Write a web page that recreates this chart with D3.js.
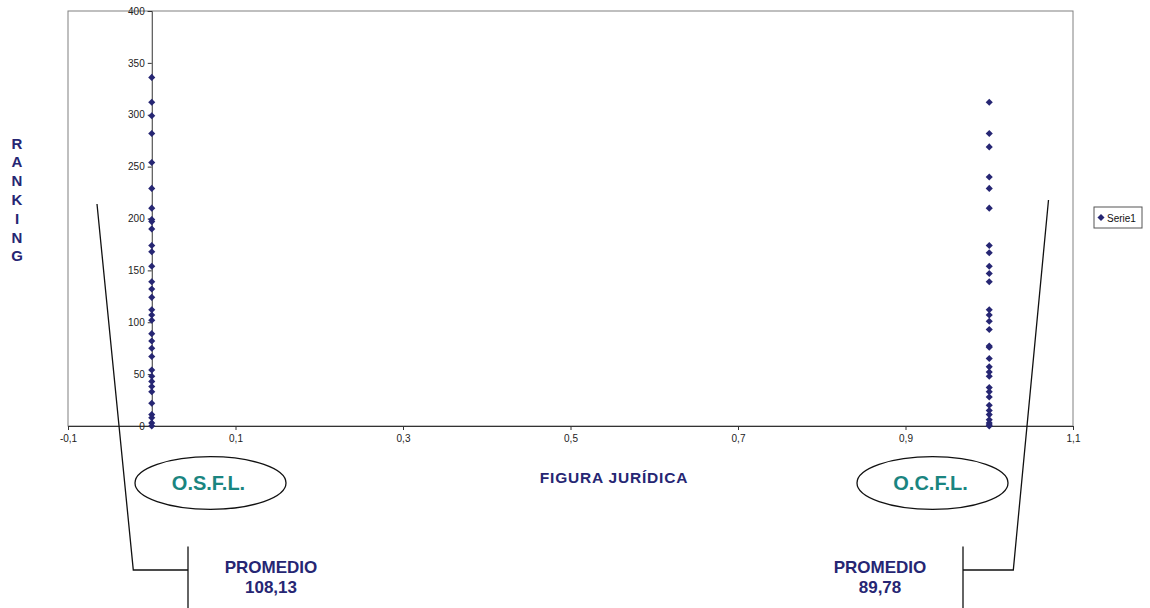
<!DOCTYPE html>
<html><head><meta charset="utf-8">
<script src="https://cdn.jsdelivr.net/npm/d3@7"></script>
<style>body{margin:0;background:#fff}svg{display:block;font-family:"Liberation Sans",Arial,sans-serif}</style>
</head><body><svg id="c" width="1150" height="608"></svg>
<script>
const seriesName = "Serie1";
const osflRanks = [336,312,299,282,254,229,210,199,197,190,174,168,154,139,132,124,112,107,102,89,82,75,67,54,48,43,38,33,22,11,8,3,0];
const ocflRanks = [312,282,269,240,229,210,174,167,154,147,139,112,107,101,93,77,76,65,57,52,48,37,33,28,20,15,11,6,3,1,0];
const xTicks = [-0.1,0.1,0.3,0.5,0.7,0.9,1.1];
const yTicks = [0,50,100,150,200,250,300,350,400];
const groupLabels = ["O.S.F.L.","O.C.F.L."];
const averages = ["108,13","89,78"];
const xTitle = "FIGURA JURÍDICA";
const yTitle = "RANKING";

const points = osflRanks.map(v=>({x:0,y:v})).concat(ocflRanks.map(v=>({x:1,y:v})));
const svg = d3.select("#c");
const L=68,R=1073,T=11,B=426;
const x = d3.scaleLinear().domain([-0.1,1.1]).range([L,R]);
const y = d3.scaleLinear().domain([0,400]).range([B,T]);
const navy="#262673", teal="#1a8580", axisC="#333";

svg.append("rect").attr("x",L).attr("y",T).attr("width",R-L).attr("height",B-T)
  .attr("fill","none").attr("stroke","#808080").attr("stroke-width",1);

const xa = svg.append("g").attr("transform",`translate(0,${B})`)
  .call(d3.axisBottom(x).tickValues(xTicks).tickSize(4).tickPadding(5).tickFormat(d=>d3.format(".1f")(d).replace(".",",").replace("−","-")));
xa.select(".domain").attr("stroke",axisC);
xa.selectAll(".tick line").attr("stroke",axisC);
xa.selectAll("text").attr("fill","#222").attr("font-size",10).attr("font-family","Liberation Sans, Arial");

const ya = svg.append("g").attr("transform",`translate(${x(0)},0)`)
  .call(d3.axisLeft(y).tickValues(yTicks).tickSize(4).tickPadding(3));
ya.select(".domain").attr("stroke",axisC);
ya.selectAll(".tick line").attr("stroke",axisC);
ya.selectAll("text").attr("fill","#222").attr("font-size",10).attr("font-family","Liberation Sans, Arial");

const sym = d3.symbol().type(d3.symbolDiamond2).size(32);
svg.append("g").selectAll("path").data(points).join("path")
  .attr("d",sym).attr("transform",d=>`translate(${x(d.x)},${y(d.y)})`).attr("fill",navy);

const lg = svg.append("g").attr("transform","translate(1094,207)");
lg.append("rect").attr("width",48).attr("height",21).attr("fill","#fff").attr("stroke","#555");
lg.append("path").attr("d",sym).attr("transform","translate(7,10.5)").attr("fill",navy);
lg.append("text").attr("x",13).attr("y",14.5).attr("font-size",10).attr("fill","#111").text(seriesName);

svg.append("g").selectAll("text").data(yTitle.split("")).join("text")
  .attr("x",17).attr("y",(d,i)=>148.5+i*18.8).attr("text-anchor","middle")
  .attr("font-size",15).attr("font-weight","bold").attr("fill",navy).text(d=>d);

svg.append("text").attr("x",614).attr("y",482.5).attr("text-anchor","middle")
  .attr("font-size",15.5).attr("letter-spacing",0.8).attr("font-weight","bold").attr("fill",navy).text(xTitle);

const ell=[{cx:210.5,cy:483},{cx:932.5,cy:483}];
ell.forEach((e,i)=>{
  svg.append("ellipse").attr("cx",e.cx).attr("cy",e.cy).attr("rx",75.5).attr("ry",26.3)
    .attr("fill","none").attr("stroke","#111").attr("stroke-width",1.3);
  svg.append("text").attr("x",e.cx-2).attr("y",e.cy+7).attr("text-anchor","middle")
    .attr("font-size",20).attr("font-weight","bold").attr("fill",teal).text(groupLabels[i]);
});

const line = (pts)=>svg.append("polyline").attr("points",pts.map(p=>p.join(",")).join(" "))
  .attr("fill","none").attr("stroke","#111").attr("stroke-width",1.3);
line([[97,204],[133.3,570],[188,570]]);
line([[188,546.5],[188,608]]);
line([[1048.5,200],[1013.3,570],[963,570]]);
line([[963,546.5],[963,608]]);

const avgX=[271,880];
avgX.forEach((ax,i)=>{
  svg.append("text").attr("x",ax).attr("y",573).attr("text-anchor","middle")
    .attr("font-size",17).attr("font-weight","bold").attr("fill",navy).text("PROMEDIO");
  svg.append("text").attr("x",ax).attr("y",593).attr("text-anchor","middle")
    .attr("font-size",17).attr("font-weight","bold").attr("fill",navy).text(averages[i]);
});
</script></body></html>
